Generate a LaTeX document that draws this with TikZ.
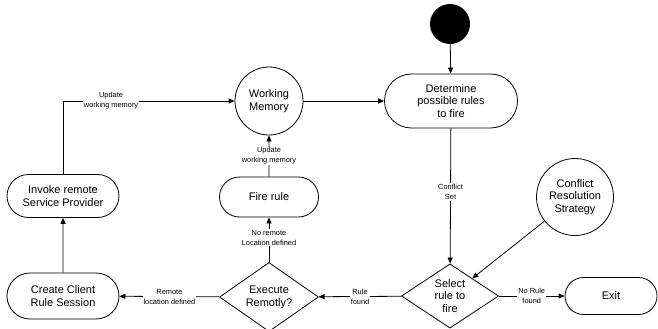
\documentclass[tikz,border=0pt]{standalone}
\usepackage{fontspec}
\setmainfont{Liberation Sans}
\usetikzlibrary{arrows.meta,shapes.geometric,shapes.misc}
\begin{document}
\begin{tikzpicture}[x=1pt,y=-1pt,
  every node/.style={font=\fontsize{11}{12.8}\selectfont, align=center},
  stadium/.style={draw, rounded rectangle, line width=0.8pt, inner sep=0pt},
  ball/.style={draw, circle, line width=0.8pt, inner sep=0pt},
  decide/.style={draw, diamond, line width=0.8pt, inner sep=0pt},
  conn/.style={draw, line width=0.8pt, -{Triangle[length=6pt,width=5pt]}},
  lbl/.style={fill=white, inner sep=1pt, font=\fontsize{7.4}{10}\selectfont}]
\useasboundingbox (0,0) rectangle (658,329);
\node[circle, fill=black, minimum size=40pt, inner sep=0pt] (start) at (450,24) {};
\node[stadium, minimum width=133pt, minimum height=54pt] (det) at (451,101) {Determine\\possible rules\\to fire};
\node[ball, minimum size=68pt] (wm) at (269,101) {Working\\Memory};
\node[stadium, minimum width=112pt, minimum height=43pt] (inv) at (63,196) {Invoke remote\\Service Provider};
\node[stadium, minimum width=99pt, minimum height=40pt] (fire) at (269,197) {Fire rule};
\node[stadium, minimum width=112pt, minimum height=46pt] (cre) at (63,296) {Create Client\\Rule Session};
\node[decide, minimum width=99pt, minimum height=61pt] (exe) at (269,297) {Execute\\Remotly?};
\node[decide, minimum width=97pt, minimum height=62pt] (sel) at (450,296) {Select\\rule to\\fire};
\node[stadium, minimum width=92pt, minimum height=37pt] (exit) at (611,296) {Exit};
\node[ball, minimum size=77pt] (crs) at (575,197) {Conflict\\Resolution\\Strategy};

\draw[conn] (start) -- (det);
\draw[conn] (wm) -- (det);
\draw[conn] (det) -- node[lbl, pos=0.47] {Conflict\\Set} (sel);
\draw[conn] (crs) -- (sel);
\draw[conn] (sel) -- node[lbl] {No Rule\\found} (exit);
\draw[conn] (sel) -- node[lbl] {Rule\\found} (exe);
\draw[conn] (exe) -- node[lbl] {Remote\\location defined} (cre);
\draw[conn] (exe) -- node[lbl, pos=0.55] {No remote\\Location defined} (fire);
\draw[conn] (fire) -- node[lbl] {Update\\working memory} (wm);
\draw[conn] (cre) -- (inv);
\draw[conn] (inv) |- node[lbl, pos=0.64] {Update\\working memory} (wm);
\end{tikzpicture}
\end{document}
